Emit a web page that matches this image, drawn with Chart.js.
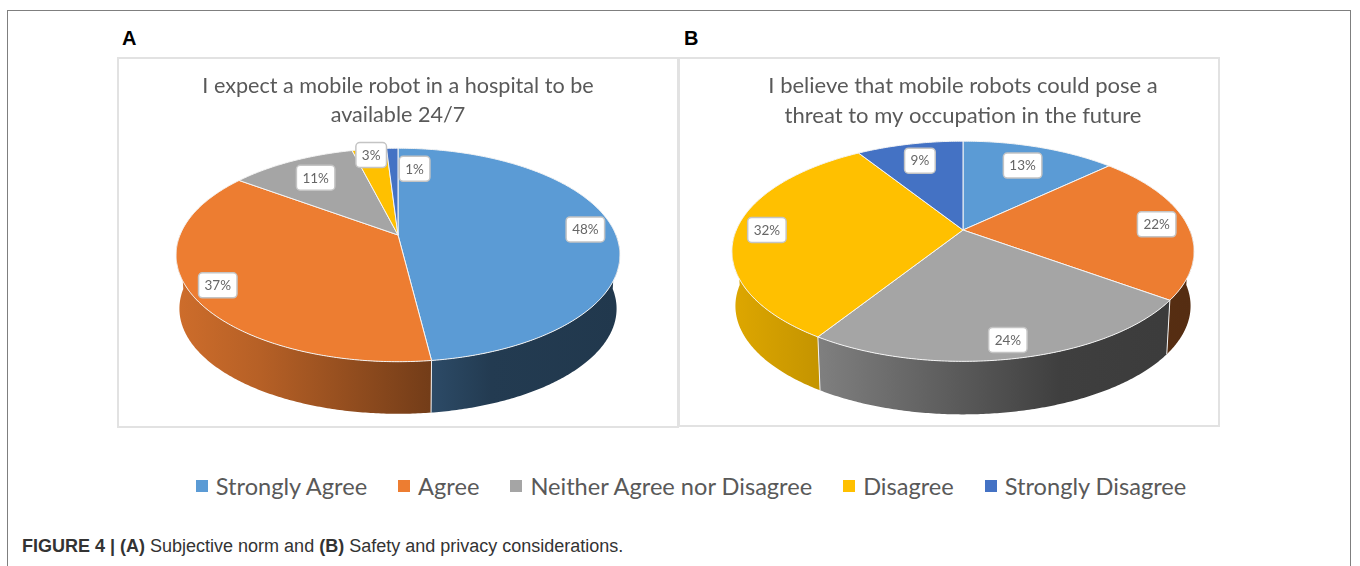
<!DOCTYPE html>
<html>
<head>
<meta charset="utf-8">
<title>Figure 4</title>
<script src="https://cdn.jsdelivr.net/npm/chart.js@4"></script>
<style>
    html, body { margin: 0; padding: 0; background: #fff; }
    body { width: 1360px; height: 566px; position: relative; overflow: hidden; }
    .abs { position: absolute; }
    #outer { left: 7px; top: 10px; width: 1342px; height: 580px; border: 1px solid #7f7f7f; }
    .frame { border: 2px solid #e2e2e2; box-sizing: border-box; }
    .tag { font: bold 20px "Liberation Sans", sans-serif; color: #000; }
    #legend { left: 0; top: 469px; width: 1413px; display: flex; justify-content: center; font: 23.6px Lato, sans-serif; color: #595959; line-height: 34px; white-space: nowrap; }
    #legend span.item { display: flex; align-items: center; margin-right: 31px; }
    #legend i { display: block; width: 12px; height: 12px; margin-right: 8px; }
    #caption { left: 22px; top: 536px; font: 18px "Liberation Sans", sans-serif; color: #333; white-space: nowrap; }
    canvas { position: absolute; }
</style>
</head>
<body>
<div class="abs" id="outer"></div>
<div class="abs tag" style="left:122px;top:27px">A</div>
<div class="abs tag" style="left:684px;top:27px">B</div>
<div class="abs frame" style="left:117px;top:57px;width:562px;height:371px"></div>
<div class="abs frame" style="left:678px;top:57px;width:542px;height:370px"></div>
<canvas id="pieA" width="560" height="368" style="left:118px;top:58px"></canvas>
<canvas id="pieB" width="512" height="368" style="left:707px;top:58px"></canvas>
<div class="abs" id="legend"></div>
<div class="abs" id="caption"><b>FIGURE 4 | (A)</b> Subjective norm and <b>(B)</b> Safety and privacy considerations.</div>

<script>
// Data
const categories = ['Strongly Agree', 'Agree', 'Neither Agree nor Disagree', 'Disagree', 'Strongly Disagree'];
const valuesA = [48, 37, 11, 3, 1];
const valuesB = [13, 22, 24, 32, 9];
const titleA = ['I expect a mobile robot in a hospital to be', 'available 24/7'];
const titleB = ['I believe that mobile robots could pose a', 'threat to my occupation in the future'];
const colors = ['#5b9bd5', '#ed7d31', '#a5a5a5', '#ffc000', '#4472c4'];

// Side wall gets darker from left to right: [position across the pie, brightness]
const wallShade = [[0, 0.87], [0.19, 0.77], [0.58, 0.48], [0.71, 0.38], [1, 0.36]];

function darken(hex, f) {
    const n = parseInt(hex.slice(1), 16);
    const c = [n >> 16, (n >> 8) & 255, n & 255].map(v => Math.round(v * f));
    return `rgb(${c[0]}, ${c[1]}, ${c[2]})`;
}

// Chart.js only does flat pies, so project the arc angles onto a tilted disc
const tiltedPie = {
    id: 'tiltedPie',
    beforeDatasetDraw(chart, args, opts) {
        const ctx = chart.ctx;
        const arcs = chart.getDatasetMeta(args.index).data;
        const values = chart.data.datasets[args.index].data;

        const project = (a, r, low) => {
            const u = r * Math.cos(a), v = r * Math.sin(a), w = 1 - opts.k * v;
            const s = low ? opts.wallScale : 1;
            return {
                x: opts.cx + s * opts.rx * u / w,
                y: opts.cy + (low ? opts.depth : 0) + s * opts.ry * v / w
            };
        };
        const samples = (a0, a1) => {
            const n = Math.max(2, Math.ceil((a1 - a0) / 0.01));
            return Array.from({ length: n + 1 }, (_, i) => a0 + (a1 - a0) * i / n);
        };
        const left = opts.cx - opts.rx * 1.02, right = opts.cx + opts.rx * 1.02;

        // walls, front half only
        arcs.forEach((arc, i) => {
            // keep the angle range that faces the viewer (sin > 0)
            const a0 = Math.max(arc.startAngle, 0), a1 = Math.min(arc.endAngle, Math.PI);
            if (a1 <= a0) return;
            const g = ctx.createLinearGradient(left, 0, right, 0);
            wallShade.forEach(s => g.addColorStop(s[0], darken(colors[i], s[1])));
            const angles = samples(a0, a1);
            ctx.beginPath();
            angles.forEach((a, j) => {
                const p = project(a, 1, false);
                j ? ctx.lineTo(p.x, p.y) : ctx.moveTo(p.x, p.y);
            });
            angles.slice().reverse().forEach(a => {
                const p = project(a, 1, true);
                ctx.lineTo(p.x, p.y);
            });
            ctx.closePath();
            ctx.fillStyle = g;
            ctx.fill();
        });

        // white seam where two slices meet on the wall
        arcs.forEach(arc => {
            const a = arc.endAngle;
            if (Math.sin(a) <= 0.1) return;
            const p = project(a, 1, false), q = project(a, 1, true);
            ctx.beginPath();
            ctx.moveTo(p.x, p.y);
            ctx.lineTo(q.x, q.y);
            ctx.strokeStyle = '#f2f2f2';
            ctx.lineWidth = 1;
            ctx.stroke();
        });

        // top surface
        arcs.forEach((arc, i) => {
            ctx.beginPath();
            ctx.moveTo(opts.cx, opts.cy);
            samples(arc.startAngle, arc.endAngle).forEach(a => {
                const p = project(a, 1, false);
                ctx.lineTo(p.x, p.y);
            });
            ctx.closePath();
            ctx.fillStyle = colors[i];
            ctx.fill();
            ctx.strokeStyle = '#f4f4f4';
            ctx.lineWidth = 1;
            ctx.lineJoin = 'round';
            ctx.stroke();
        });

        // value labels
        ctx.font = '13.5px Lato, sans-serif';
        ctx.textAlign = 'center';
        ctx.textBaseline = 'middle';
        arcs.forEach((arc, i) => {
            const p = project((arc.startAngle + arc.endAngle) / 2, opts.labelR[i], false);
            const x = p.x + (opts.labelDx[i] || 0);
            const text = values[i] + '%';
            const w = ctx.measureText(text).width + 12, h = 25;
            ctx.beginPath();
            ctx.roundRect(x - w / 2, p.y - h / 2, w, h, 4);
            ctx.fillStyle = '#fff';
            ctx.fill();
            ctx.strokeStyle = '#c4c4c4';
            ctx.lineWidth = 1.5;
            ctx.stroke();
            ctx.fillStyle = '#666';
            ctx.fillText(text, x, p.y + 0.5);
        });
        return false;
    }
};

function makePie(id, values, title, titleSize, geometry) {
    return new Chart(document.getElementById(id), {
        type: 'pie',
        data: {
            labels: categories,
            datasets: [{ data: values, backgroundColor: colors }]
        },
        options: {
            responsive: false,
            animation: false,
            plugins: {
                legend: { display: false },
                tooltip: { enabled: false },
                title: {
                    display: true,
                    text: title,
                    color: '#595959',
                    padding: { top: 13, bottom: 0 },
                    font: { family: 'Lato, sans-serif', size: titleSize, weight: 'normal', lineHeight: 1.36 }
                },
                tiltedPie: geometry
            }
        },
        plugins: [tiltedPie]
    });
}

makePie('pieA', valuesA, titleA, 21.6, {
    cx: 280, cy: 177, rx: 218, ry: 103, k: 0.187, depth: 54, wallScale: 0.985,
    labelR: [0.87, 0.88, 0.75, 0.92, 0.73], labelDx: [0, 0, 0, 0, 21]
});
makePie('pieB', valuesB, titleB, 22, {
    cx: 256, cy: 172, rx: 226.7, ry: 106, k: 0.193, depth: 55, wallScale: 0.985,
    labelR: [0.75, 0.865, 0.88, 0.865, 0.78], labelDx: []
});

// Shared legend under both panels
document.getElementById('legend').innerHTML = categories.map((c, i) =>
    `<span class="item"><i style="background:${colors[i]}"></i>${c}</span>`).join('');
</script>
</body>
</html>
